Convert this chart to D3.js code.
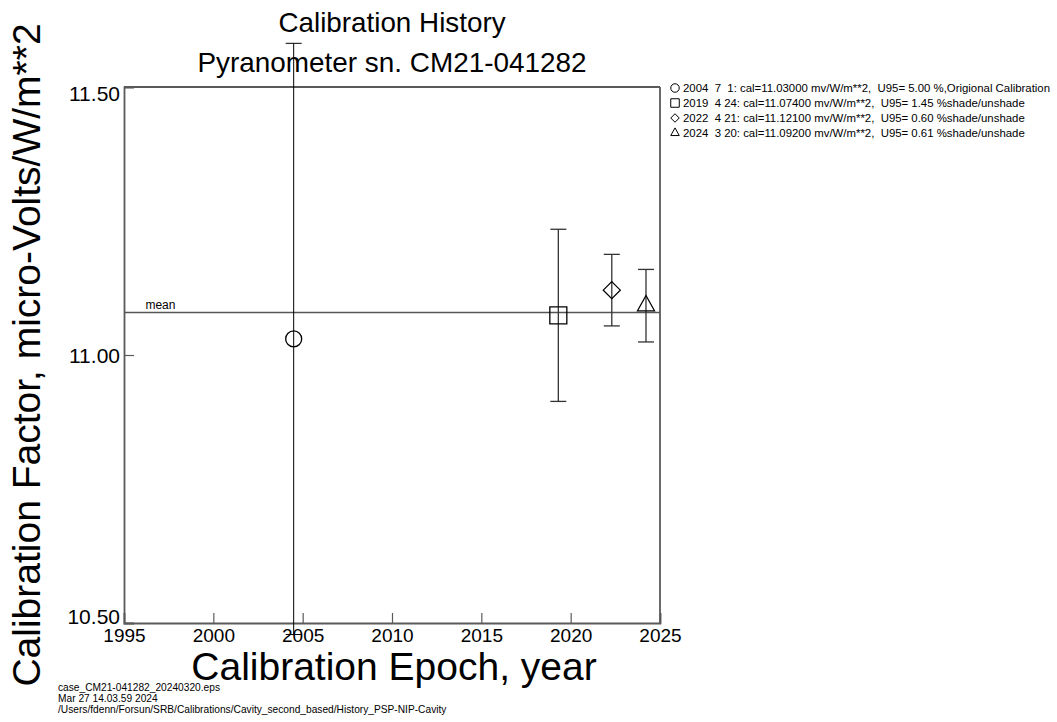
<!DOCTYPE html>
<html><head><meta charset="utf-8">
<script src="https://cdn.jsdelivr.net/npm/d3@7"></script>
<style>
body{margin:0;background:#fff;}
text{font-family:"Liberation Sans",Arial,Helvetica,sans-serif;fill:#000;}
</style></head>
<body>
<svg id="chart" width="1057" height="722"></svg>
<script>
// ---- data ----
const calYear  = [2004, 2019, 2022, 2024];
const calMonth = [7, 4, 4, 3];
const calDay   = [1, 24, 21, 20];
const calValue = [11.03000, 11.07400, 11.12100, 11.09200];
const calU95   = [5.00, 1.45, 0.60, 0.61];
const calNote  = [",Origional Calibration", "shade/unshade", "shade/unshade", "shade/unshade"];
const symbols  = ["circle", "square", "diamond", "triangle"];
const xTickLabels = [1995, 2000, 2005, 2010, 2015, 2020, 2025];
const yTickLabels = [10.50, 11.00, 11.50];
const titleLines = ["Calibration History", "Pyranometer sn. CM21-041282"];
const xTitle = "Calibration Epoch, year";
const yTitle = "Calibration Factor, micro-Volts/W/m**2";
const footer = ["case_CM21-041282_20240320.eps", "Mar 27 14.03.59 2024",
  "/Users/fdenn/Forsun/SRB/Calibrations/Cavity_second_based/History_PSP-NIP-Cavity"];

// ---- layout ----
const L = 124, R = 660, T = 87, B = 623;
const svg = d3.select("#chart");
const x = d3.scaleLinear().domain([1995, 2025]).range([L, R]);
const y = d3.scaleLinear().domain([10.5, 11.5]).range([B, T]);
const axisCol = "#5a5a5a";

function decYear(yr, mo, dy) {
  const start = Date.UTC(yr, 0, 1), end = Date.UTC(yr + 1, 0, 1);
  return yr + (Date.UTC(yr, mo - 1, dy) - start) / (end - start);
}
const pts = calYear.map((yr, i) => ({
  t: decYear(yr, calMonth[i], calDay[i]), v: calValue[i],
  e: calValue[i] * calU95[i] / 100, sym: symbols[i], i
}));
const mean = d3.mean(calValue);

// ---- axes ----
const xMinor = d3.range(1995, 2026, 1);
const yMinor = d3.range(0, 11).map(k => 10.5 + k * 0.1);

const gx = svg.append("g").attr("transform", `translate(0,${B})`);
gx.call(d3.axisBottom(x).tickValues(xMinor).tickSize(-5).tickFormat(""));
gx.call(d3.axisBottom(x).tickValues(xTickLabels).tickSize(-10).tickPadding(5).tickFormat(d3.format("d")));
gx.selectAll("path.domain").attr("stroke", axisCol).attr("stroke-width", 1.8);
gx.selectAll(".tick line").attr("stroke", axisCol).attr("stroke-width", 1.2);
gx.selectAll(".tick text").attr("font-size", 19).attr("font-family", "Liberation Sans, Arial, sans-serif").attr("fill", "#000").attr("dy", "0.72em");

const gy = svg.append("g").attr("transform", `translate(${L},0)`);
gy.call(d3.axisLeft(y).tickValues(yMinor).tickSize(-5).tickFormat(""));
gy.call(d3.axisLeft(y).tickValues(yTickLabels).tickSize(-10).tickPadding(4).tickFormat(d3.format(".2f")));
gy.selectAll("path.domain").attr("stroke", axisCol).attr("stroke-width", 1.8);
gy.selectAll(".tick line").attr("stroke", axisCol).attr("stroke-width", 1.2);
gy.selectAll(".tick text").attr("font-size", 21).attr("font-family", "Liberation Sans, Arial, sans-serif").attr("fill", "#000")
  .attr("dy", d => d >= 11.5 ? "0.66em" : (d <= 10.5 ? "0em" : "0.36em"));

// top & right frame
svg.append("line").attr("x1", L).attr("x2", R).attr("y1", T).attr("y2", T).attr("stroke", axisCol).attr("stroke-width", 1.8);
svg.append("line").attr("x1", R).attr("x2", R).attr("y1", T).attr("y2", B).attr("stroke", axisCol).attr("stroke-width", 1.8);

// mean line
svg.append("line").attr("x1", L).attr("x2", R).attr("y1", y(mean)).attr("y2", y(mean))
  .attr("stroke", "#555").attr("stroke-width", 1.3);
svg.append("text").attr("x", x(1996.2)).attr("y", y(mean) - 4).attr("font-size", 12).text("mean");

// ---- error bars ----
const capW = 16;
const eb = svg.append("g");
pts.forEach(p => {
  const col = p.i === 0 ? "#000" : "#333";
  const w = p.i === 0 ? 1 : 1.3;
  const cx = x(p.t), y1 = y(p.v + p.e), y2 = y(p.v - p.e);
  eb.append("line").attr("x1", cx).attr("x2", cx).attr("y1", y1).attr("y2", y2).attr("stroke", col).attr("stroke-width", w);
  [y1, y2].forEach(yy => eb.append("line").attr("x1", cx - capW / 2).attr("x2", cx + capW / 2)
    .attr("y1", yy).attr("y2", yy).attr("stroke", col).attr("stroke-width", w));
});

// ---- symbols ----
function symPath(sym, cx, cy, s) {
  const h = s / 2;
  if (sym === "square") return `M${cx-h},${cy-h}H${cx+h}V${cy+h}H${cx-h}Z`;
  if (sym === "diamond") return `M${cx},${cy-h}L${cx+h},${cy}L${cx},${cy+h}L${cx-h},${cy}Z`;
  if (sym === "triangle") return `M${cx},${cy-h*1.2}L${cx+h},${cy+h*0.6}L${cx-h},${cy+h*0.6}Z`;
  return null;
}
function drawSym(g, sym, cx, cy, s, sw) {
  if (sym === "circle") {
    g.append("circle").attr("cx", cx).attr("cy", cy).attr("r", s / 2)
      .attr("fill", "none").attr("stroke", "#000").attr("stroke-width", sw);
  } else {
    g.append("path").attr("d", symPath(sym, cx, cy, s))
      .attr("fill", "none").attr("stroke", "#000").attr("stroke-width", sw);
  }
}
const gs = svg.append("g");
pts.forEach(p => drawSym(gs, p.sym, x(p.t), y(p.v), p.sym === "circle" ? 16 : 17, 1.3));

// ---- titles ----
svg.append("text").attr("x", 392).attr("y", 32).attr("text-anchor", "middle").attr("font-size", 27.8).text(titleLines[0]);
svg.append("text").attr("x", 392).attr("y", 72).attr("text-anchor", "middle").attr("font-size", 27.9).text(titleLines[1]);
svg.append("text").attr("x", 394).attr("y", 680).attr("text-anchor", "middle").attr("font-size", 39).text(xTitle);
svg.append("text").attr("transform", "translate(40,355) rotate(-90)").attr("text-anchor", "middle").attr("font-size", 39).text(yTitle);

// ---- legend ----
const lg = svg.append("g");
function pad(n, w) { return String(n).padStart(w, " "); }
pts.forEach((p, i) => {
  const yy = 88 + i * 15;
  drawSym(lg, p.sym, 675, yy, 8.5, 1);
  const s = `${calYear[i]}${pad(calMonth[i], 3)}${pad(calDay[i], 3)}: cal=${calValue[i].toFixed(5)} mv/W/m**2,  U95=${pad(calU95[i].toFixed(2), 5)} %${calNote[i]}`;
  lg.append("text").attr("x", 683).attr("y", yy + 4).attr("font-size", 11.4)
    .style("white-space", "pre").attr("xml:space", "preserve").text(s);
});

// ---- footer ----
footer.forEach((f, i) => {
  svg.append("text").attr("x", 58).attr("y", 691 + i * 11).attr("font-size", 10.2).text(f);
});
</script>
</body></html>
